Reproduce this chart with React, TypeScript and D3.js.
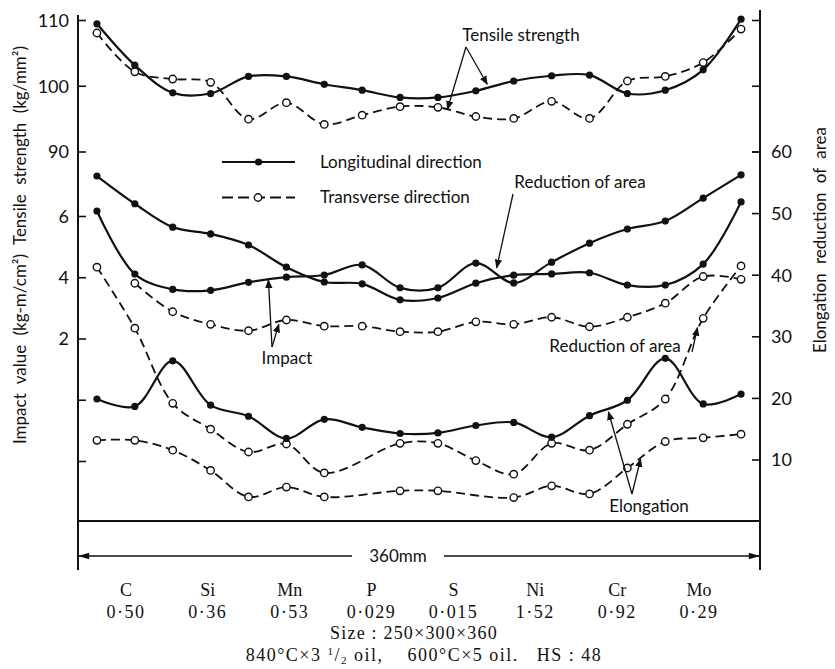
import * as d3 from 'd3';

// specimen positions along the 360 mm length (mm)
const positionsMm = [10, 30, 50, 70, 90, 110, 130, 150, 170, 190, 210, 230, 250, 270, 290, 310, 330, 350];

// tensile strength, kg/mm2
const tensileLong = [109.5, 103.2, 99.0, 98.9, 101.5, 101.5, 100.3, 99.4, 98.3, 98.3, 99.3, 100.8, 101.6, 101.7, 98.9, 99.4, 102.5, 110.2];
const tensileTrans = [108.1, 102.2, 101.1, 100.6, 95.0, 97.5, 94.2, 95.6, 96.9, 96.8, 95.4, 95.1, 97.7, 95.1, 100.8, 101.5, 103.6, 108.7];

// reduction of area, %
const raLong = [56.1, 51.6, 47.8, 46.7, 44.9, 41.3, 38.9, 38.6, 36.0, 36.3, 38.7, 40.0, 40.2, 40.4, 38.4, 38.4, 41.8, 51.9];
const raTrans = [41.3, 31.4, 19.2, 15.0, 11.3, 12.6, 7.9, null, 12.7, 12.7, 9.9, 7.7, 12.7, 11.6, 15.8, 19.9, 33.0, 41.5];

// impact value, kg-m/cm2
const impactLong = [6.18, 4.12, 3.62, 3.59, 3.85, 4.02, 4.09, 4.42, 3.67, 3.67, 4.48, 3.83, 4.51, 5.13, 5.59, 5.85, 6.6, 7.36];
const impactTrans = [null, 3.82, 2.89, 2.48, 2.27, 2.62, 2.42, 2.42, 2.24, 2.24, 2.56, 2.48, 2.71, 2.4, 2.71, 3.17, 4.04, 3.95];

// elongation, %
const elongLong = [19.9, 18.7, 26.1, 18.9, 17.1, 13.5, 16.6, 15.3, 14.3, 14.4, 15.6, 16.1, 13.7, 17.2, 19.7, 26.5, 19.1, 20.7];
const elongTrans = [13.2, 13.2, 11.6, 8.3, 4.0, 5.6, 4.0, null, 5.0, 5.0, null, 3.9, 5.8, 4.5, 8.7, 13.0, 13.6, 14.2];

// axis ticks
const tensileTicks = [110, 100, 90];
const impactTicks = [6, 4, 2];
const impactBlankTicks = [0, -2];
const pctTicks = [60, 50, 40, 30, 20, 10];

// chemical composition
const elements = ['C', 'Si', 'Mn', 'P', 'S', 'Ni', 'Cr', 'Mo'];
const contents = ['0·50', '0·36', '0·53', '0·029', '0·015', '1·52', '0·92', '0·29'];

const ink = '#111';
const sans = 'Lato, "Open Sans", sans-serif';
const serif = '"Liberation Serif", "DejaVu Serif", serif';

export default function App() {
  const x = d3.scaleLinear().domain([0, 360]).range([78, 760]);
  const yTensile = d3.scaleLinear().domain([90, 110]).range([152, 20.5]);
  const yImpact = d3.scaleLinear().domain([2, 6]).range([339, 216.5]);
  const yPct = d3.scaleLinear().domain([10, 60]).range([460, 152]);
  const xElem = d3.scalePoint().domain(elements).range([126, 699]);

  const series = [
    { key: 'tl', values: tensileLong, y: yTensile, dashed: false },
    { key: 'tt', values: tensileTrans, y: yTensile, dashed: true },
    { key: 'rl', values: raLong, y: yPct, dashed: false },
    { key: 'rt', values: raTrans, y: yPct, dashed: true },
    { key: 'il', values: impactLong, y: yImpact, dashed: false },
    { key: 'it', values: impactTrans, y: yImpact, dashed: true },
    { key: 'el', values: elongLong, y: yPct, dashed: false },
    { key: 'et', values: elongTrans, y: yPct, dashed: true },
  ];

  const line = d3.line<[number, number]>().curve(d3.curveCatmullRom.alpha(0.5));

  const axisL = x(0);
  const axisR = x(360);
  const baseY = 521;

  const arrow = (x1: number, y1: number, x2: number, y2: number, k: string) => (
    <line key={k} x1={x1} y1={y1} x2={x2} y2={y2} stroke={ink} strokeWidth={1.3} markerEnd="url(#head)" />
  );

  return (
    <svg width={835} height={669} style={{ position: 'absolute', left: 0, top: 0, background: '#fff' }}>
      <defs>
        <marker id="head" viewBox="0 0 10 10" refX={9} refY={5} markerWidth={7} markerHeight={7} orient="auto">
          <path d="M0,1 L10,5 L0,9 Z" fill={ink} />
        </marker>
        <marker id="dim" viewBox="0 0 10 10" refX={10} refY={5} markerWidth={9} markerHeight={7} orient="auto-start-reverse">
          <path d="M0,2 L10,5 L0,8 Z" fill={ink} />
        </marker>
      </defs>

      {/* axes */}
      <line x1={axisL} y1={15} x2={axisL} y2={570} stroke={ink} strokeWidth={2} />
      <line x1={axisR} y1={10} x2={axisR} y2={570} stroke={ink} strokeWidth={2} />
      <line x1={axisL} y1={baseY} x2={axisR} y2={baseY} stroke={ink} strokeWidth={2} />

      {tensileTicks.map((t) => (
        <g key={'t' + t}>
          <line x1={axisL} x2={axisL + 8} y1={yTensile(t)} y2={yTensile(t)} stroke={ink} strokeWidth={1.6} />
          <text x={69} y={yTensile(t)} dy="0.35em" textAnchor="end" fontFamily={sans} fontSize={18} fill={ink}>{t}</text>
          <line x1={axisR - 8} x2={axisR} y1={yTensile(t)} y2={yTensile(t)} stroke={ink} strokeWidth={1.6} />
        </g>
      ))}
      {impactTicks.map((t) => (
        <g key={'i' + t}>
          <line x1={axisL} x2={axisL + 8} y1={yImpact(t)} y2={yImpact(t)} stroke={ink} strokeWidth={1.6} />
          <text x={69} y={yImpact(t)} dy="0.35em" textAnchor="end" fontFamily={sans} fontSize={18} fill={ink}>{t}</text>
        </g>
      ))}
      {impactBlankTicks.map((t) => (
        <line key={'ib' + t} x1={axisL} x2={axisL + 8} y1={yImpact(t)} y2={yImpact(t)} stroke={ink} strokeWidth={1.6} />
      ))}
      {pctTicks.map((t) => (
        <g key={'p' + t}>
          <line x1={axisR - 8} x2={axisR} y1={yPct(t)} y2={yPct(t)} stroke={ink} strokeWidth={1.6} />
          <text x={771} y={yPct(t)} dy="0.35em" fontFamily={sans} fontSize={18} fill={ink}>{t}</text>
        </g>
      ))}

      <text transform="translate(26,245) rotate(-90)" textAnchor="middle" fontFamily={sans} fontSize={17} wordSpacing={5} fill={ink}>
        Impact value (kg-m/cm²) Tensile strength (kg/mm²)
      </text>
      <text transform="translate(826,240) rotate(-90)" textAnchor="middle" fontFamily={sans} fontSize={17} wordSpacing={5} fill={ink}>
        Elongation reduction of area
      </text>

      {/* data */}
      {series.map((s) => {
        const pts = positionsMm
          .map((p, i) => [p, s.values[i]] as [number, number | null])
          .filter((d) => d[1] != null)
          .map((d) => [x(d[0]), s.y(d[1] as number)] as [number, number]);
        return (
          <g key={s.key}>
            <path
              d={line(pts) || ''}
              fill="none"
              stroke={ink}
              strokeWidth={s.dashed ? 1.8 : 2.2}
              strokeDasharray={s.dashed ? '9 5' : undefined}
            />
            {pts.map((p, i) =>
              s.dashed ? (
                <circle key={i} cx={p[0]} cy={p[1]} r={3.7} fill="#fff" stroke={ink} strokeWidth={1.4} />
              ) : (
                <circle key={i} cx={p[0]} cy={p[1]} r={3.6} fill={ink} />
              )
            )}
          </g>
        );
      })}

      {/* legend */}
      <line x1={222} x2={295} y1={162} y2={162} stroke={ink} strokeWidth={2.2} />
      <circle cx={258.5} cy={162} r={3.6} fill={ink} />
      <text x={320} y={162} dy="0.35em" fontFamily={sans} fontSize={17} fill={ink}>Longitudinal direction</text>
      <line x1={222} x2={295} y1={197.5} y2={197.5} stroke={ink} strokeWidth={1.8} strokeDasharray="11 5" />
      <circle cx={258} cy={197.5} r={3.7} fill="#fff" stroke={ink} strokeWidth={1.4} />
      <text x={320} y={197.5} dy="0.35em" fontFamily={sans} fontSize={17} fill={ink}>Transverse direction</text>

      {/* annotations */}
      <text x={521} y={41} textAnchor="middle" fontFamily={sans} fontSize={17} fill={ink}>Tensile strength</text>
      {arrow(466, 47, x(195), yTensile(96.5), 'a1')}
      {arrow(466, 47, x(216), yTensile(100.3), 'a2')}

      <text x={580} y={188} textAnchor="middle" fontFamily={sans} fontSize={17} fill={ink}>Reduction of area</text>
      {arrow(513, 194, x(221), yPct(41.2), 'a3')}

      <text x={287} y={364} textAnchor="middle" fontFamily={sans} fontSize={17} fill={ink}>Impact</text>
      {arrow(272, 347, x(100.5), yImpact(3.93), 'a4')}
      {arrow(272, 347, x(106), yImpact(2.48), 'a5')}

      <text x={615} y={352} textAnchor="middle" fontFamily={sans} fontSize={17} fill={ink}>Reduction of area</text>
      {arrow(692, 352, x(327), yPct(31.5), 'a6')}

      <text x={649} y={512} textAnchor="middle" fontFamily={sans} fontSize={17} fill={ink}>Elongation</text>
      {arrow(632, 494, x(280), yPct(17.8), 'a7')}
      {arrow(632, 494, x(297), yPct(10.2), 'a8')}

      {/* 360 mm dimension */}
      <line x1={axisL} x2={352} y1={556} y2={556} stroke={ink} strokeWidth={1.6} markerStart="url(#dim)" />
      <line x1={444} x2={axisR} y1={556} y2={556} stroke={ink} strokeWidth={1.6} markerEnd="url(#dim)" />
      <text x={398} y={562} textAnchor="middle" fontFamily={sans} fontSize={17} fill={ink}>360mm</text>

      {/* composition */}
      {elements.map((e, i) => (
        <g key={e}>
          <text x={xElem(e)} y={596} textAnchor="middle" fontFamily={serif} fontSize={18} fill={ink}>{e}</text>
          <text x={xElem(e)} y={618} textAnchor="middle" fontFamily={serif} fontSize={18} letterSpacing={1.5} fill={ink}>{contents[i]}</text>
        </g>
      ))}
      <text x={414} y={639} textAnchor="middle" fontFamily={serif} fontSize={18} letterSpacing={1.2} fill={ink}>
        Size : 250×300×360
      </text>
      <text x={424} y={661} textAnchor="middle" fontFamily={serif} fontSize={18} letterSpacing={1.5} fill={ink} style={{ whiteSpace: 'pre' }}>
        840°C×3 <tspan fontSize={11} dy={-6}>1</tspan>
        <tspan dy={6}>/</tspan>
        <tspan fontSize={11} dy={3}>2</tspan>
        <tspan dy={-3}>{' oil,    600°C×5 oil.   HS : 48'}</tspan>
      </text>
    </svg>
  );
}
